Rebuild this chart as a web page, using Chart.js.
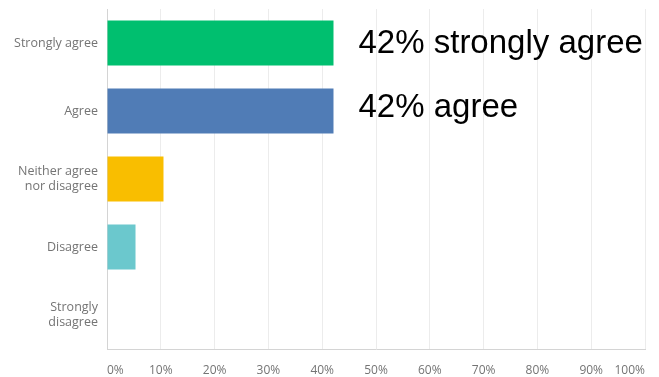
<!DOCTYPE html>
<html>
<head>
<meta charset="utf-8">
<script src="https://cdn.jsdelivr.net/npm/chart.js@4"></script>
<style>
  html, body { margin: 0; padding: 0; background: #fff; }
  #wrap { width: 659px; height: 377px; }
</style>
</head>
<body>
<div id="wrap"><canvas id="chart"></canvas></div>
<script>
// answers, top to bottom
const categories = ['Strongly agree', 'Agree', ['Neither agree', 'nor disagree'], 'Disagree', ['Strongly', 'disagree']];
// percent of respondents
const percents = [42.1, 42.1, 10.5, 5.3, 0];
const barColors = ['#00bf6f', '#507cb6', '#f9be00', '#6bc8cd', '#a6a6a6'];
// x ticks
const tickValues = [0, 10, 20, 30, 40, 50, 60, 70, 80, 90, 100];
// big callouts next to the first two bars
const callouts = ['42% strongly agree', '42% agree'];

// draws the big black callout text next to a bar
const calloutPlugin = {
    id: 'callouts',
    afterDatasetsDraw(chart, args, opts) {
        const ctx = chart.ctx;
        const x = chart.scales.x;
        const y = chart.scales.y;
        ctx.save();
        ctx.font = '33px "Liberation Sans", Arial, sans-serif';
        ctx.fillStyle = '#000';
        ctx.textAlign = 'left';
        ctx.textBaseline = 'alphabetic';
        callouts.forEach(function (txt, i) {
            const px = x.getPixelForValue(percents[i]) + opts.dx;
            const py = y.getPixelForValue(i) + opts.dy[i];
            ctx.fillText(txt, px, py);
        });
        ctx.restore();
    }
};

const config = {
    type: 'bar',
    data: {
        labels: categories,
        datasets: [{
            data: percents,
            backgroundColor: barColors,
            borderWidth: 0,
            barPercentage: 0.66,
            categoryPercentage: 1.0
        }]
    },
    options: {
        indexAxis: 'y',
        responsive: true,
        maintainAspectRatio: false,
        animation: false,
        layout: {
            padding: { left: 0, right: 14, top: 9, bottom: 0 }
        },
        plugins: {
            legend: { display: false },
            tooltip: { enabled: false },
            callouts: { dx: 25, dy: [10, 5.5] }
        },
        scales: {
            x: {
                min: 0,
                max: 100,
                afterBuildTicks: function (scale) {
                    scale.ticks = tickValues.map(v => ({ value: v }));
                },
                afterFit: function (scale) {
                    scale.height = 28;
                    scale.paddingLeft = 0;
                    scale.paddingRight = 0;
                },
                ticks: {
                    callback: v => v + '%',
                    color: '#747474',
                    padding: 14,
                    align: 'inner',
                    maxRotation: 0,
                    autoSkip: false,
                    font: { family: '"Open Sans", sans-serif', size: 12 }
                },
                grid: { color: '#ececec', drawTicks: false },
                border: { color: '#d4d4d4' }
            },
            y: {
                afterFit: function (scale) {
                    scale.width = 107;
                    scale.paddingTop = 0;
                    scale.paddingBottom = 0;
                },
                ticks: {
                    color: '#747474',
                    padding: 9,
                    font: { family: '"Open Sans", sans-serif', size: 12.5, lineHeight: 1.2 }
                },
                grid: { display: false, drawTicks: false },
                border: { color: '#d4d4d4' }
            }
        }
    },
    plugins: [calloutPlugin]
};

const myChart = new Chart(document.getElementById('chart'), config);
</script>
</body>
</html>
